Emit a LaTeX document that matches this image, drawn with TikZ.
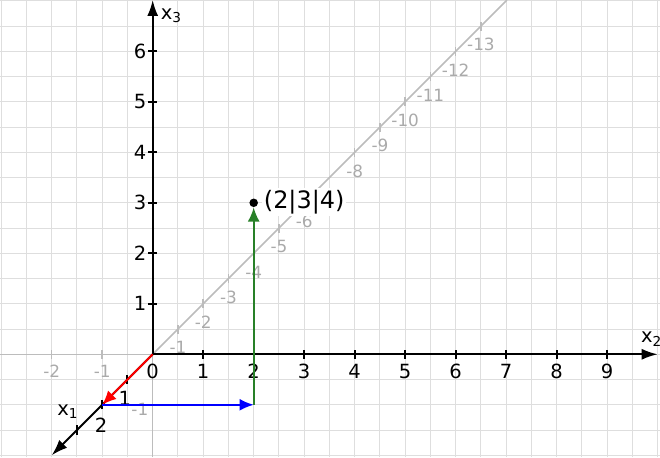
\documentclass[tikz,border=0pt]{standalone}
\usepackage{fontspec}
\setmainfont{DejaVu Sans}
\usetikzlibrary{arrows.meta}
\definecolor{gridgray}{RGB}{222,222,222}
\definecolor{linegray}{RGB}{188,188,188}
\definecolor{labelgray}{RGB}{170,170,170}
\definecolor{vecgreen}{RGB}{40,128,40}
\tikzset{
  axis/.style={line width=1.1pt, -{Latex[length=9pt,width=6.2pt]}},
  vec/.style={line width=1.1pt, -{Latex[length=8pt,width=6.8pt]}},
  tickmark/.style={line width=1.1pt},
  ticklabel/.style={font=\fontsize{11}{13}\selectfont, inner sep=0},
  graylabel/.style={font=\fontsize{9.5}{11}\selectfont, text=labelgray, inner sep=0},
}
\begin{document}
\begin{tikzpicture}

  % Frame and grid
  \useasboundingbox (-3.024,-2.034) rectangle (10.046,7.016);
  \draw[gridgray, line width=0.55pt, step=0.5] (-3.024,-2.034) grid (10.046,7.016);

  \coordinate (O) at (0,0);

  % Negative half axes, grey
  \draw[linegray, line width=0.8pt] (O) -- (-3.024,0);
  \draw[linegray, line width=0.8pt] (O) -- (0,-2.034);
  \draw[linegray, line width=0.8pt] (O) -- (7.016,7.016);
  \foreach \i in {1,2} {
    \draw[linegray, line width=0.8pt] (-\i,-0.09) -- (-\i,0.09);
    \node[graylabel] at (-\i,-0.345) {-\i};
  }
  \node[graylabel, anchor=east] at (-0.08,-1.09) {-1};
  \foreach \n in {1,...,6,8,9,...,13} {
    \draw[linegray, line width=0.8pt] (0.5*\n,0.5*\n-0.09) -- ++(0,0.18);
    \node[graylabel] at (0.5*\n,0.5*\n-0.37) {-\n};
  }

  % Axes
  \draw[axis] (O) -- (10.0,0);
  \draw[axis] (O) -- (0,7.016);
  \draw[axis] (O) -- (-2,-2);
  \node[ticklabel] at (9.88,0.3) {x\textsubscript{2}};
  \node[ticklabel] at (0.37,6.7) {x\textsubscript{3}};
  \node[ticklabel] at (-1.68,-1.14) {x\textsubscript{1}};

  % Ticks
  \node[ticklabel] at (0,-0.345) {0};
  \foreach \i in {1,...,9} {
    \draw[tickmark] (\i,-0.09) -- (\i,0.09);
    \node[ticklabel] at (\i,-0.345) {\i};
  }
  \foreach \i in {1,...,6} {
    \draw[tickmark] (-0.09,\i) -- (0.09,\i);
    \node[ticklabel, anchor=east] at (-0.12,\i) {\i};
  }
  \foreach \i in {1,2,3} \draw[tickmark] (-0.5*\i,-0.5*\i-0.09) -- ++(0,0.18);
  \node[ticklabel] at (-0.55,-0.87) {1};
  \node[ticklabel] at (-1.02,-1.4) {2};

  % Point and its path
  \node[circle, fill, inner sep=0, minimum size=4.8pt] (P) at (2,3) {};
  \node[fill=white, inner sep=1pt, anchor=west, font=\fontsize{13.5}{16}\selectfont] (Plabel) at (2.16,3.02) {(2|3|4)};
  \coordinate (A) at (-1,-1);
  \coordinate (B) at (2,-1);
  \draw[vec, red] (O) -- (A);
  \draw[vec, blue] (A) -- (B);
  \draw[vec, vecgreen] (B) -- (P);

\end{tikzpicture}
\end{document}
